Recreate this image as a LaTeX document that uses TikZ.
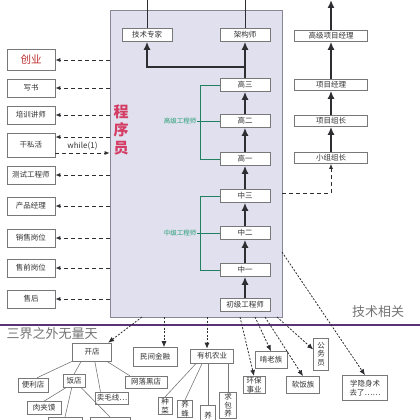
\documentclass[tikz,border=0pt]{standalone}
\usepackage{fontspec}
\setmainfont{Noto Sans CJK SC}
\usetikzlibrary{arrows.meta,positioning}
\definecolor{boxgray}{RGB}{120,120,120}
\definecolor{progfill}{RGB}{224,224,238}
\definecolor{progline}{RGB}{135,135,150}
\definecolor{darkline}{RGB}{45,45,50}
\definecolor{lvgreen}{RGB}{40,160,120}
\definecolor{pinkred}{RGB}{212,60,100}
\definecolor{startred}{RGB}{190,45,45}
\definecolor{divider}{RGB}{90,50,120}
\definecolor{fadetext}{RGB}{115,115,115}

\begin{document}
\begin{tikzpicture}[x=1pt,y=-1pt,
  box/.style={draw=boxgray, fill=white, line width=0.6pt, inner sep=1pt,
    font=\fontsize{7.5}{8.5}\selectfont, text=black!80},
  sidebox/.style={box, minimum width=48pt, minimum height=18pt},
  rankbox/.style={box, minimum width=50pt, minimum height=13pt},
  pmbox/.style={box, minimum width=73pt, minimum height=11pt},
  bigarrow/.style={draw=darkline, line width=2.2pt, -{Latex[length=8pt,width=7pt]}},
  sidearrow/.style={draw=darkline, line width=0.8pt, dash pattern=on 4pt off 3pt,
    -{Latex[length=5pt,width=4pt]}},
  droparrow/.style={draw=darkline, line width=0.8pt, dash pattern=on 2pt off 1.5pt,
    -{Latex[length=6pt,width=5pt]}},
  bracket/.style={draw=lvgreen!80!black, line width=0.8pt},
  twig/.style={draw=boxgray, line width=0.6pt},
  grade/.style={font=\fontsize{6.5}{7}\selectfont, text=lvgreen, inner sep=1pt}
]
\useasboundingbox (0,0) rectangle (420,420);
\clip (0,0) rectangle (420,420);

% Programmer box
\node[draw=progline, fill=progfill, line width=0.8pt, minimum width=172pt,
  minimum height=307pt, inner sep=0pt] (prog) at (196,163.5) {};
\node[font=\bfseries\fontsize{15}{18}\selectfont, text=pinkred, align=center]
  (progname) at (121,130) {程\\序\\员};

% Ranks
\node[rankbox] (zhuanjia) at (147,35) {技术专家};
\node[rankbox] (jiagou) at (245,35) {架构师};
\node[rankbox] (gao3) at (245,85) {高三};
\node[rankbox] (gao2) at (245,121) {高二};
\node[rankbox] (gao1) at (245,159) {高一};
\node[rankbox] (zhong3) at (245,196) {中三};
\node[rankbox] (zhong2) at (245,233) {中二};
\node[rankbox] (zhong1) at (245,270) {中一};
\node[rankbox] (chuji) at (245,305) {初级工程师};

\draw[bigarrow] (chuji) -- (zhong1);
\draw[bigarrow] (zhong1) -- (zhong2);
\draw[bigarrow] (zhong2) -- (zhong3);
\draw[bigarrow] (zhong3) -- (gao1);
\draw[bigarrow] (gao1) -- (gao2);
\draw[bigarrow] (gao2) -- (gao3);
\draw[bigarrow] (gao3) -- (jiagou);
\coordinate (fork) at (245,67);
\draw[bigarrow] (fork) -| (zhuanjia.south);

\coordinate (zjtop) at (147,0);
\coordinate (jgtop) at (245,0);
\draw[darkline, line width=0.7pt] (zhuanjia) -- (zjtop);
\draw[darkline, line width=0.7pt] (jiagou) -- (jgtop);

% Grade brackets
\node[grade] (gaoji) at (180,121) {高级工程师};
\draw[bracket] (gao3.west) -- ++(-19,0) |- (gao1.west);
\draw[bracket] (gaoji.east) -- (gao2.west);
\node[grade] (zhongji) at (180,233) {中级工程师};
\draw[bracket] (zhong3.west) -- ++(-19,0) |- (zhong1.west);
\draw[bracket] (zhongji.east) -- (zhong2.west);

% Left column
\node[sidebox, minimum height=21pt, font=\fontsize{10.5}{11}\selectfont, text=startred]
  (chuangye) at (31,60) {创业};
\node[sidebox] (xieshu) at (31,88) {写书};
\node[sidebox] (peixun) at (31,115) {培训讲师};
\node[sidebox, minimum height=24pt] (sihuo) at (31,145) {干私活};
\node[sidebox] (ceshi) at (31,175) {测试工程师};
\node[sidebox] (chanpin) at (31,206) {产品经理};
\node[sidebox] (xiaoshou) at (31,238) {销售岗位};
\node[sidebox] (shouqian) at (31,268) {售前岗位};
\node[sidebox] (shouhou) at (31,299) {售后};

\foreach \n in {chuangye,xieshu,peixun,ceshi,chanpin,xiaoshou,shouqian,shouhou}
  \draw[sidearrow] (prog.west |- \n.east) -- (\n.east);
\coordinate (sihuoin) at ([yshift=8pt]sihuo.east);
\coordinate (sihuoout) at ([yshift=-8pt]sihuo.east);
\draw[sidearrow] (prog.west |- sihuoin) -- (sihuoin);
\draw[sidearrow] (sihuoout) -- node[above=-1pt, font=\fontsize{8}{9}\selectfont, text=black!80]
  {while(1)} (prog.west |- sihuoout);

% Project management column
\node[pmbox] (gaoxm) at (331,36) {高级项目经理};
\node[pmbox] (xiangmu) at (331,85) {项目经理};
\node[pmbox] (zuzhang) at (331,121) {项目组长};
\node[pmbox] (xiaozu) at (331,158) {小组组长};
\coordinate (pmtop) at (331,0);
\coordinate (pmturn) at (331,193);
\draw[bigarrow] (xiaozu) -- (zuzhang);
\draw[bigarrow] (zuzhang) -- (xiangmu);
\draw[bigarrow] (xiangmu) -- (gaoxm);
\draw[bigarrow] (gaoxm) -- (pmtop);
\draw[sidearrow] (prog.east |- pmturn) -- (pmturn) -- (xiaozu);

% Divider
\draw[divider, line width=1.6pt] (0,325) -- (420,325);
\node[font=\fontsize{13}{14}\selectfont, text=fadetext] (jishu) at (378,312) {技术相关};
\node[font=\fontsize{13}{14}\selectfont, text=fadetext] (sanjie) at (52,334) {三界之外无量天};

% Outside
\node[box, minimum width=39pt, minimum height=18pt] (kaidian) at (92,352) {开店};
\node[box, minimum width=44pt, minimum height=19pt] (minjian) at (155,357) {民间金融};
\node[box, minimum width=43pt, minimum height=14pt] (youji) at (212,356) {有机农业};
\node[box, minimum width=30pt, minimum height=14pt] (bianli) at (33,385) {便利店};
\node[box, minimum width=22pt, minimum height=13pt] (fandian) at (74,381) {饭店};
\node[box, minimum width=42pt, minimum height=12pt] (wangluo) at (146,382) {网落黑店};
\node[box, minimum width=31pt, minimum height=12pt] (maoxian) at (112,398) {卖毛线…};
\node[box, minimum width=34pt, minimum height=13pt] (roujiamo) at (44,408) {肉夹馍};
\node[box, minimum width=34pt, minimum height=14pt, anchor=north] (fan1) at (65,417) {};
\node[box, minimum width=40pt, minimum height=14pt, anchor=north] (fan2) at (110,417) {};
\node[box, minimum width=14pt, align=center, anchor=north] (zhongcai) at (165,397) {种\\菜};
\node[box, minimum width=15pt, align=center, anchor=north] (yangfeng) at (185,400) {养\\蜂};
\node[box, minimum width=15pt, minimum height=20pt, anchor=north] (yang) at (208,405) {养};
\node[box, minimum width=17pt, align=center, anchor=north] (qiubao) at (228,392) {求\\包\\养};
\node[box, minimum width=22pt, align=center] (huanbao) at (254,385) {环保\\事业};
\node[box, minimum width=32pt, minimum height=17pt] (kenlao) at (271,360) {啃老族};
\node[box, minimum width=33pt, minimum height=17pt] (ruanfan) at (303,385) {软饭族};
\node[box, minimum width=15pt, minimum height=32pt, align=center] (gongwu) at (321,354) {公\\务\\员};
\node[box, minimum width=45pt, minimum height=25pt, align=center] (xueyin) at (365,388) {学隐身术\\去了……};

\draw[twig] (kaidian.south west) -- (bianli.60);
\draw[twig] ([xshift=9pt]kaidian.south west) -- (fandian.north);
\draw[twig] ([xshift=-17pt]kaidian.south east) -- ([xshift=5pt]maoxian.north west);
\draw[twig] ([xshift=-5pt]kaidian.south east) -- ([xshift=5pt]wangluo.north west);
\draw[twig] ([xshift=3pt]fandian.south west) -- (roujiamo.north);
\draw[twig] ([xshift=9pt]fandian.south west) -- (fan1.north);
\draw[twig] ([xshift=-4pt]fandian.south east) -- (fan2.north);
\draw[twig] ([xshift=6pt]youji.south west) -- (zhongcai.north);
\draw[twig] ([xshift=12pt]youji.south west) -- (yangfeng.north);
\draw[twig] (youji.south -| yang.north) -- (yang.north);
\draw[twig] (youji.south -| qiubao.north) -- (qiubao.north);

\coordinate (d1) at (142,317);
\coordinate (d2) at (164,317);
\coordinate (d3) at (207,317);
\coordinate (d4) at (240,317);
\coordinate (d5) at (255,317);
\coordinate (d6) at (265,317);
\coordinate (d7) at (277,317);
\coordinate (d8) at (282,252);
\draw[droparrow] (d1) -- (kaidian.30);
\draw[droparrow] (d2) -- (d2 |- minjian.north);
\draw[droparrow] (d3) -- (d3 |- youji.north);
\draw[droparrow] (d4) -- (huanbao.north);
\draw[droparrow] (d5) -- (kenlao.north);
\draw[droparrow] (d6) -- (ruanfan.north);
\draw[droparrow] (d7) -- (gongwu.150);
\draw[droparrow] (d8) -- (xueyin.north);
\end{tikzpicture}
\end{document}
